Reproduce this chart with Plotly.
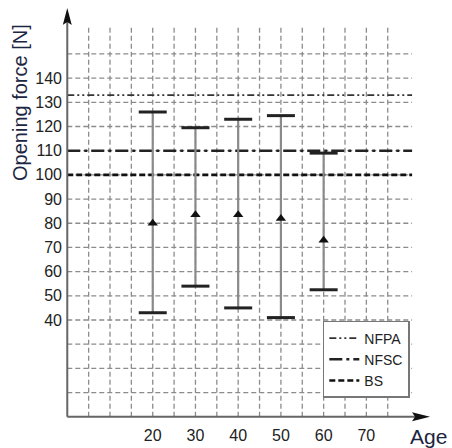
import plotly.graph_objects as go

# Opening force measured per age group
ages = [20, 30, 40, 50, 60]
mean_force = [80, 83.5, 83.5, 82, 73]
max_force = [126, 119.5, 123, 124.5, 109]
min_force = [43, 54, 45, 41, 52.5]

# Reference limits from the standards
standard_names = ["NFPA", "NFSC", "BS"]
standard_values = [133, 110, 100]
standard_dash = ["7px,3px,2px,3px,2px,3px", "13px,4px,3px,4px", "6px,3px"]
standard_width = [1.8, 2.4, 2.6]
standard_color = ["#333333", "#222222", "#111111"]

y_ticks = [40, 50, 60, 70, 80, 90, 100, 110, 120, 130, 140]
x_ticks = [20, 30, 40, 50, 60, 70]
grid_y = [10, 20, 30, 40, 50, 60, 70, 80, 90, 100, 110, 120, 130, 140, 150]
grid_x = [5, 10, 15, 20, 25, 30, 35, 40, 45, 50, 55, 60, 65, 70, 75]

X_MIN, X_MAX = -1, 87
Y_MIN, Y_MAX = -3, 169
GRID_X_END = 80.7
GRID_Y_END = 162
ARROW_X = 84.9

fig = go.Figure()

# standard limit lines
for name, val, dash, w, c in zip(standard_names, standard_values,
                                 standard_dash, standard_width, standard_color):
    fig.add_trace(go.Scatter(
        x=[0, GRID_X_END], y=[val, val], mode="lines", name=name,
        line=dict(color=c, width=w, dash=dash), hoverinfo="skip",
    ))

# range stems
err_plus = [hi - m for hi, m in zip(max_force, mean_force)]
err_minus = [m - lo for lo, m in zip(min_force, mean_force)]
fig.add_trace(go.Scatter(
    x=ages, y=mean_force, mode="markers", showlegend=False,
    marker=dict(size=1, color="rgba(0,0,0,0)"),
    error_y=dict(type="data", symmetric=False, array=err_plus,
                 arrayminus=err_minus, color="#8a8a8a", thickness=2.2, width=0),
))
# caps at max and min
fig.add_trace(go.Scatter(
    x=ages + ages, y=max_force + min_force, mode="markers", showlegend=False,
    marker=dict(symbol="line-ew", size=20, line=dict(color="#222222", width=3)),
))
# mean markers
fig.add_trace(go.Scatter(
    x=ages, y=mean_force, mode="markers", showlegend=False,
    marker=dict(symbol="triangle-up", size=9, color="#111111"),
))

shapes = []
grid_line = dict(color="#8c8c8c", width=1.3, dash="5px,3px")
for gy in grid_y:
    shapes.append(dict(type="line", xref="x", yref="y", x0=0, x1=GRID_X_END,
                       y0=gy, y1=gy, line=grid_line, layer="below"))
for gx in grid_x:
    shapes.append(dict(type="line", xref="x", yref="y", x0=gx, x1=gx,
                       y0=0, y1=GRID_Y_END, line=grid_line, layer="below"))

# axis lines with arrow heads
axis_line = dict(color="#666666", width=2)
shapes.append(dict(type="line", xref="x", yref="y", x0=0, x1=0, y0=0, y1=Y_MAX - 4,
                   line=axis_line))
shapes.append(dict(type="line", xref="x", yref="y", x0=0, x1=ARROW_X - 3, y0=0, y1=0,
                   line=axis_line))
shapes.append(dict(type="path", xref="x", yref="y", xsizemode="pixel", ysizemode="pixel",
                   xanchor=0, yanchor=Y_MAX, path="M-4.5,-17 L0,0 L4.5,-17 L0,-14 Z",
                   fillcolor="#111111", line=dict(width=0)))
shapes.append(dict(type="path", xref="x", yref="y", xsizemode="pixel", ysizemode="pixel",
                   xanchor=ARROW_X, yanchor=0, path="M-18,-4.5 L0,0 L-18,4.5 L-15,0 Z",
                   fillcolor="#111111", line=dict(width=0)))

tick_font = dict(family="Liberation Sans, Arial, sans-serif", size=16, color="#222222")

fig.update_layout(
    width=452, height=448,
    margin=dict(l=63, r=13, t=8, b=24),
    paper_bgcolor="white", plot_bgcolor="white",
    shapes=shapes,
    xaxis=dict(range=[X_MIN, X_MAX], tickvals=x_ticks, showgrid=False,
               zeroline=False, showline=False, ticks="", tickfont=tick_font,
               automargin=False, fixedrange=True),
    yaxis=dict(range=[Y_MIN, Y_MAX], tickvals=y_ticks, showgrid=False,
               zeroline=False, showline=False, ticks="", tickfont=tick_font,
               automargin=False, fixedrange=True),
    legend=dict(x=0.691, y=0.2476, xanchor="left", yanchor="top",
                bgcolor="white", bordercolor="#777777", borderwidth=1.5,
                font=dict(family="Liberation Sans, Arial, sans-serif", size=14,
                          color="#222222"),
                itemwidth=30),
    annotations=[
        dict(text="Opening force [N]", xref="paper", yref="paper",
             x=-0.114, y=0.772, xanchor="center", yanchor="middle",
             textangle=-90, showarrow=False,
             font=dict(family="Liberation Sans, Arial, sans-serif", size=20,
                       color="#1c2541")),
        dict(text="Age", xref="paper", yref="paper", x=0.973, y=-0.031,
             xanchor="center", yanchor="middle", showarrow=False,
             font=dict(family="Liberation Sans, Arial, sans-serif", size=21,
                       color="#1c2541")),
    ],
)

fig.write_html("out.html")
